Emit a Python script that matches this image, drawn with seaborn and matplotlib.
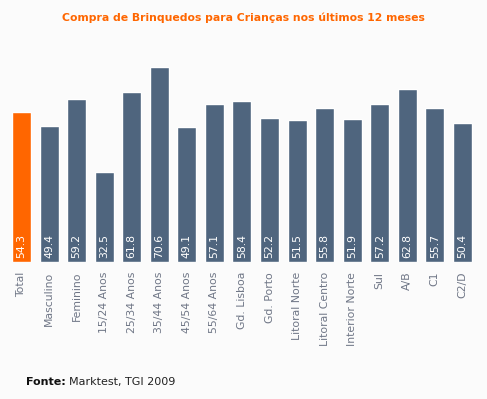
import matplotlib
matplotlib.use("Agg")
import matplotlib.pyplot as plt
import seaborn as sns
import pandas as pd

categories = ["Total", "Masculino", "Feminino", "15/24 Anos", "25/34 Anos", "35/44 Anos",
              "45/54 Anos", "55/64 Anos", "Gd. Lisboa", "Gd. Porto", "Litoral Norte",
              "Litoral Centro", "Interior Norte", "Sul", "A/B", "C1", "C2/D"]
values = [54.3, 49.4, 59.2, 32.5, 61.8, 70.6, 49.1, 57.1, 58.4, 52.2, 51.5,
          55.8, 51.9, 57.2, 62.8, 55.7, 50.4]

df = pd.DataFrame({"cat": categories, "val": values})
palette = ["#ff6600"] + ["#4f657e"] * (len(categories) - 1)

sns.set_theme(style="white")
plt.rcParams['font.family'] = ['DejaVu Sans']

fig = plt.figure(figsize=(4.87, 3.99), dpi=100)
fig.patch.set_facecolor("#fbfbfb")
ax = fig.add_axes([0.0158, 0.343, 0.962, 0.519])
ax.set_facecolor("#fbfbfb")

sns.barplot(data=df, x="cat", y="val", hue="cat", palette=palette, legend=False,
            width=0.69, ax=ax, saturation=1)

ax.set_xlim(-0.5, len(categories) - 0.5)
ax.set_ylim(0, 75)
for s in ax.spines.values():
    s.set_visible(False)
ax.set_yticks([])
ax.set_xlabel("")
ax.set_ylabel("")
ax.tick_params(axis="x", length=0, pad=7)
ax.set_xticks(range(len(categories)))
ax.set_xticklabels(categories, rotation=90, fontsize=7.8, color="#6f7686", va="top", ha="center")

for i, v in enumerate(values):
    ax.text(i, 1.4, f"{v:.1f}", rotation=90, ha="center", va="bottom",
            color="white", fontsize=7.8)

fig.text(0.5, 0.955, "Compra de Brinquedos para Crianças nos últimos 12 meses",
         ha="center", va="center", color="#ff6600", fontsize=7.8, fontweight="bold")

fig.text(0.053, 0.043, "Fonte:", ha="left", va="center", color="#111111",
         fontsize=8, fontweight="bold")
fig.text(0.141, 0.043, "Marktest, TGI 2009", ha="left", va="center", color="#222222",
         fontsize=8)

fig.savefig("out.png", dpi=100, facecolor=fig.get_facecolor())
